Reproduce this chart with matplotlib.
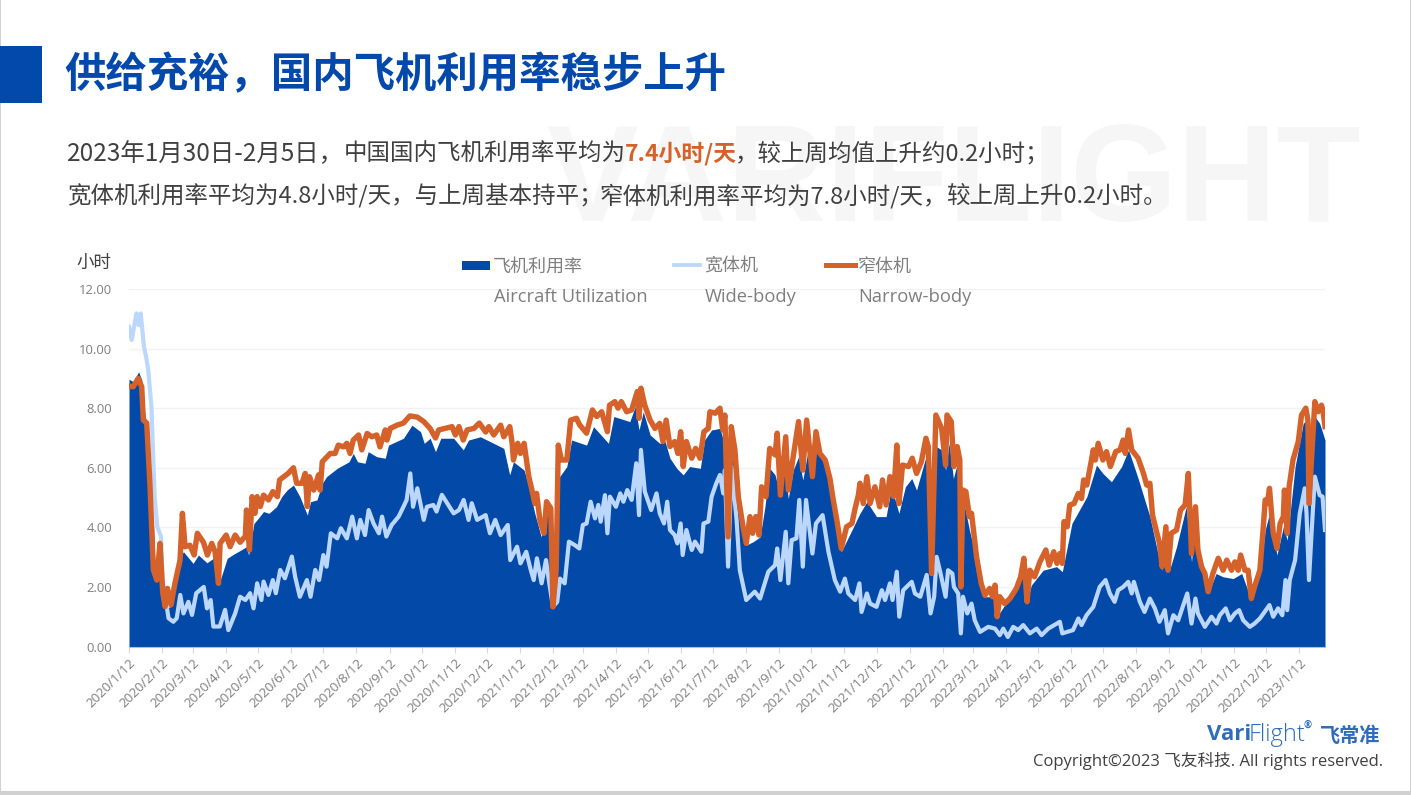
import numpy as np
import matplotlib
matplotlib.use("Agg")
import matplotlib.pyplot as plt
from matplotlib.patches import Rectangle
from matplotlib.lines import Line2D

W, H = 1411, 795
CJK = ['Noto Sans CJK SC', 'DejaVu Sans']
LAT = ['Open Sans', 'Noto Sans CJK SC', 'DejaVu Sans']
plt.rcParams['font.family'] = CJK

title = "供给充裕，国内飞机利用率稳步上升"
line1_a = "2023年1月30日-2月5日，"
line1_b = "中国国内飞机利用率平均为"
line1_c = "7.4小时/天"
line1_d = "，较上周均值上升约0.2小时；"
line2_a = "宽体机利用率平均为4.8小时/天，与上周基本持平；"
line2_b = "窄体机利用率平均为7.8小时/天，"
line2_c = "较上周上升0.2小时。"
y_ticks = [0, 2, 4, 6, 8, 10, 12]
start_date = np.datetime64('2020-01-12')
end_date = np.datetime64('2023-02-05')

util_days = [0,4,9,12,14,17,20,23,24.5,26.5,29,32,34,39,48,51,60,65,73,80.6,84,92,98,104,110,112,117,121,126,131,138,143,148,154,160,167,170,176,181,185,195,206,210,214,221,224,232,240,243,257,265,273,276.5,282,287,292,304,313,318,329,341.5,351,356.5,360,370,374,
380,386,391,394,397,402,410,414.5,428.5,435,449,454,469,474,477.6,481.6,488,497,502,506.6,513,519,525,535,539,545.6,553.4,556.5,560,564,567.4,570.6,578,584.6,591,595.5,600,605,610,614,617.4,622,627,631,636,640,644,652,656.4,662.6,667,677,684.5,691,700,709,714,721,727,733,737.5,746.3,751.6,
756,761,764.7,768,772,776.5,779,782,787,793.7,800,806,811,813,820,831,838,841,845,856,868.6,874,883,897,906,912,920,929.5,936,945,956,967,971.6,974,981,990,995,999,1004.4,1010.6,1018,1024.6,1034,1042,1051,1059,1064,1068,1075,1081,1084.6,1092,1099.6,1103,1105,1110.5,1115,1120]
util_vals = [8.97,8.89,9.22,8.94,8.0,7.38,5.36,4.02,2.57,2.29,3.46,1.67,1.28,1.34,3.02,3.18,2.79,3.07,2.81,3.0,2.07,2.96,3.1,3.22,3.35,3.07,4.13,4.3,4.53,4.47,4.69,5.03,5.25,5.42,5.03,4.41,4.86,4.92,5.48,5.7,5.98,6.2,6.48,6.2,6.15,6.54,6.37,6.32,6.76,6.99,7.43,7.21,6.82,6.99,6.54,6.99,6.99,6.6,6.93,7.04,6.82,6.65,5.76,6.2,5.92,5.42,
4.47,3.68,4.47,4.36,1.33,5.64,6.04,6.93,6.76,7.38,6.82,7.72,7.55,8.05,7.27,7.88,7.1,6.82,6.88,6.32,5.98,5.76,6.04,5.98,6.93,7.27,7.32,6.93,3.68,7.04,6.48,5.03,3.4,3.52,3.68,4.69,5.98,5.76,5.03,5.92,4.97,5.92,6.37,5.59,6.6,5.64,6.65,6.04,5.48,4.13,3.18,3.91,4.47,4.86,4.36,4.36,5.36,4.47,5.36,5.64,5.25,6.37,2.45,
6.71,6.6,5.92,6.82,5.64,6.26,2.0,4.8,3.91,2.9,1.67,1.67,1.89,1.0,1.39,1.89,2.68,1.5,2.06,2.56,2.68,2.51,4.13,5.03,6.09,5.81,5.53,6.04,6.6,5.64,4.36,2.56,3.68,2.51,3.35,4.69,2.84,4.47,2.62,1.78,2.45,2.34,2.28,2.45,1.56,2.45,3.91,4.47,3.07,4.02,3.57,6.04,7.49,7.6,4.8,7.72,7.49,6.93]

wide_days = [0,2.5,7,9,11,14,16,18,21,24,26.5,30,31.5,34,37,41.5,44.7,48,51,55.6,59,63,70,73,76.5,79,85,90,93,99.4,104,109,113.4,116.6,120,124,126,130.6,134.7,137.5,141.6,146,152.5,155.6,160,166.6,170,174.4,178,182,185,189,195,198.4,204,209,213.4,216.6,221,224.4,229,234,237,241,246,252.5,257,260,263.4,266,270,276,279,285,288,293,298,304,309,313.4,318,321,326,334,338,343,348,354.7,357,363.4,366.6,372,376,379,382,386.4,390.5,393.6,397,401,403.6,408,412,417.6,421.7,425,428.5,432.3,436.4,439.5,441.7,445.7,448,450.4,456,460,463,466.6,470.7,475,477.6,479.4,483,489,494,497,501,504,506.6,511,513.5,516.6,518.5,522,527,530,536,538,542.5,545.6,550,553.4,556.5,558,561,564.3,569,572,578,586,591,598.7,605,607,610,615,617.4,620.5,625,627.7,631,634,640,643.3,649.5,655,661,666,670.4,673.6,680,684,686,691,694,700,705,708,712.6,715,719,721.3,725,733,736,741,747,750.6,754,756.3,760,764.7,767,771,772.5,776.5,779,781,785,789,792,797,804.6,811,815.5,818.7,823,828,832.7,837.4,843.6,850,854.6,860.8,871.7,874,884,889,892,896.7,903,909,914.5,918.5,923,926.3,931,935.7,939,941,946.6,951,956,960.7,965,970,973,978,982.5,991,995,998.7,1001,1007.5,1013.7,1018.4,1021.5,1027,1031,1035.6,1039.6,1043.4,1049.6,1054,1059,1068,1071.5,1076,1080,1083,1084.6,1087,1092,1096.4,1101,1102.7,1105,1107.4,1110.5,1115,1117.7,1120]
wide_vals = [10.73,10.29,11.18,10.79,11.18,10.06,9.73,9.28,8.05,5.03,4.02,3.69,2.23,1.67,0.95,0.83,0.95,1.73,1.11,1.5,1.06,1.79,2.0,1.28,1.56,0.67,0.67,1.23,0.55,1.11,1.67,1.56,1.79,1.28,2.12,1.56,2.18,1.73,2.23,1.79,2.57,2.29,3.02,2.34,1.67,2.23,1.67,2.57,2.23,3.07,2.68,3.8,3.63,3.97,3.63,4.36,3.63,4.25,3.74,4.58,4.13,3.8,4.36,3.69,4.08,4.36,4.69,4.92,5.81,4.69,5.31,4.25,4.69,4.75,4.53,5.09,4.81,4.47,4.58,4.92,4.25,4.81,4.25,4.41,3.8,4.25,3.74,4.08,2.9,3.35,2.79,3.18,2.6,2.23,2.96,2.12,2.9,2.12,1.33,1.5,2.28,2.12,3.52,3.4,3.29,4.08,4.13,4.86,4.3,4.75,4.19,5.08,3.8,5.03,4.69,5.14,4.86,5.25,4.92,6.15,4.41,6.6,5.2,4.58,5.14,4.47,4.13,4.86,3.91,3.74,3.46,4.13,3.07,3.91,3.24,3.52,3.18,4.13,4.19,5.03,5.48,5.76,5.14,5.92,2.68,6.04,4.24,2.56,1.56,1.84,1.61,2.51,2.73,3.29,2.23,3.85,2.12,3.57,3.63,4.92,2.68,4.92,3.12,4.13,4.41,3.18,2.23,1.84,2.28,1.78,1.56,2.12,1.16,1.78,1.44,1.33,1.89,1.56,2.12,1.56,2.51,1.0,1.89,2.17,1.78,1.67,2.4,1.11,1.67,3.01,2.45,1.67,2.56,2.45,2.0,1.78,0.44,1.67,1.11,1.44,0.88,0.49,0.66,0.6,0.38,0.6,0.32,0.66,0.55,0.72,0.44,0.6,0.38,0.6,0.83,0.44,0.55,0.94,0.72,1.05,1.33,2.0,2.23,1.78,1.5,1.89,2.0,2.17,1.78,2.17,1.5,1.16,1.61,1.28,0.83,1.22,0.44,1.05,0.88,1.78,0.77,1.61,1.11,0.66,1.0,0.77,1.05,1.28,0.88,1.11,1.22,0.88,0.66,0.77,0.94,1.39,1.0,1.28,1.05,2.23,1.22,2.23,2.9,4.47,5.31,4.47,2.23,3.8,5.7,5.08,5.03,3.91]

narrow_days = [0,4,8.6,11.9,13.4,16.6,19.7,22.8,26,29,31.6,33.8,36,39.4,43,47.8,50,52.5,57,61,64,69.7,73.4,77.5,80.6,83.8,85.3,91,94.7,99.4,104,109,110,112.8,115.3,118,120,123,126,130.6,134.7,139,141,145,149,154,157,162,165,167,169,173,177.5,179,181,188.4,193,196,201,204,207,210,215,218,223,227.5,232,235,240,241.6,244.7,251,257,263,270,276,282,287,290,296,302.5,305.6,309,313,316.6,323,328,334,337,341.6,348,351,356.6,358.8,360,364,366.6,370,374.4,377,380,381.7,385,388.6,391,395,397,400,402,405,410,413.6,419,422,428.5,434,438,442.6,448,450,455,458,461,466,470.7,476,477.6,479.4,483,488,492.5,497,500,503,506.6,511,514,516.6,519,522,527,530.6,534.7,538.4,542.5,544,549,553.4,556,558,561,564,567.4,570.6,575,578,581.5,584,587,590,592.4,596.5,600,605,607,610,615,617.4,622,627,631,634.6,640,643.3,647,652,656.4,659.5,662.6,667,672,677,680,683,684.5,687.6,691,694,698.5,703,705.6,709,712.6,716,719,721,724.4,730,733.5,737.5,742,746.3,748.5,751.6,755.6,761,764.7,766,770,772.5,775.6,778,779,781,783.7,787,789,793.7,798,801.5,806,808.7,811,813,815.5,820,825,831,835,838,841,843.6,848,853,858.6,861.7,866,869,871.7,874,875.5,878.6,881,885,889,892,894,897,903,905,907.6,912,915.4,919,924,928,931,933,936,939,945,950,953,956,958.5,960.7,965,967.5,971,973,976,981,984.7,989,992,995,998.7,1001,1004.4,1007.5,1010.6,1015,1020,1024.6,1028,1032.5,1035.6,1038.7,1041,1045,1048,1051,1054,1059,1062,1064,1066,1068,1071.5,1075,1078,1081,1082,1084.6,1086.4,1090,1095,1098,1102,1104,1105,1110.5,1113.6,1116.7,1118,1120]
narrow_vals = [8.74,8.72,9.0,8.72,7.6,7.5,5.37,2.57,2.23,3.46,1.8,1.34,1.95,1.4,2.12,2.9,4.47,3.35,3.4,3.07,3.8,3.5,3.07,3.46,3.18,2.12,3.46,3.74,3.35,3.74,3.5,3.7,4.58,3.24,5.03,4.47,5.03,4.7,5.08,4.92,5.2,5.03,5.59,5.7,5.81,6.0,5.48,5.48,5.81,4.7,5.7,5.25,5.76,5.25,6.2,6.48,6.48,6.76,6.7,6.82,6.48,6.93,7.1,6.6,7.15,7.04,7.1,6.7,7.27,6.93,7.32,7.43,7.5,7.74,7.7,7.55,7.32,7.0,7.27,7.32,7.38,7.1,7.38,6.93,7.27,7.32,7.5,7.2,7.38,7.1,7.43,7.04,7.38,6.82,6.26,6.82,6.48,6.82,5.7,5.3,4.8,5.14,4.19,3.8,4.86,4.64,1.33,2.56,6.76,6.26,6.26,7.6,7.66,7.44,7.16,7.94,7.72,7.88,7.21,8.1,8.22,8.0,8.22,7.88,7.94,8.56,7.66,8.67,8.1,7.6,7.32,7.49,6.88,7.6,6.71,6.88,6.48,7.21,6.04,6.88,6.32,6.65,6.32,7.21,7.32,7.88,7.83,8.0,7.27,7.77,3.68,7.38,6.6,5.03,4.02,3.46,4.36,3.8,4.36,3.74,5.36,5.03,6.65,6.43,7.16,5.08,7.04,5.25,6.37,7.55,5.92,7.6,5.7,7.21,6.48,6.26,5.64,4.92,4.3,3.29,4.02,4.13,4.64,5.08,5.48,4.8,5.7,4.8,5.36,4.69,5.59,4.75,5.7,5.03,6.76,4.8,6.09,6.04,6.32,5.81,6.2,6.99,6.71,2.45,7.77,7.32,6.09,7.77,7.55,6.04,6.71,6.26,2.0,5.25,5.2,4.36,4.47,3.01,2.12,1.72,1.95,1.67,2.06,1.0,1.67,1.44,1.61,1.95,2.34,2.96,1.5,2.56,2.34,2.84,3.24,2.73,3.18,2.79,3.12,2.79,4.19,4.02,4.75,4.8,5.14,4.97,5.59,5.42,6.6,6.26,6.82,6.26,6.54,6.04,6.54,6.6,6.93,6.48,7.27,6.6,6.32,5.81,5.42,5.48,4.41,4.08,3.46,2.68,4.02,2.56,3.8,3.91,4.58,4.75,5.81,3.12,4.69,3.24,2.68,2.45,1.84,2.45,2.96,2.56,2.9,2.56,2.84,2.56,3.07,2.56,2.56,1.61,2.0,2.56,3.91,4.92,4.8,5.31,3.8,3.29,4.13,4.36,5.25,3.8,5.36,6.26,6.88,7.77,8.0,7.6,4.8,8.22,7.88,8.1,7.94,7.38]

BLUE = '#0349A8'
LIGHT = '#BBD7FB'
ORANGE = '#D4622A'
GRAY = '#7F7F7F'
DARK = '#404040'

def fx(x): return x / W
def fy(y): return 1 - y / H

fig = plt.figure(figsize=(W / 100, H / 100), dpi=100, facecolor='white')

# slide frame
for (x0, y0, w, h) in [(0, 791, W, 4), (1410, 0, 1, 795), (0, 0, 1, 795)]:
    fig.patches.append(Rectangle((fx(x0), fy(y0 + h)), w / W, h / H, transform=fig.transFigure,
                                 fc='#D0D0D0', ec='none'))
fig.patches.append(Rectangle((fx(0), fy(103)), 42 / W, 57 / H, transform=fig.transFigure,
                             fc='#0349AC', ec='none'))

fig.text(fx(546), fy(185), "VARIFLIGHT", family='Liberation Sans', fontweight='bold', fontsize=99,
         color='#F6F6F6', va='center', ha='left', zorder=0)
fig.text(fx(64), fy(75), title, fontsize=29.8, fontweight='bold', color='#0349AC', va='center', ha='left')

for xx, seg, col, wt, fs in [(67, line1_a, DARK, 'normal', 17.6), (344, line1_b, DARK, 'normal', 16.9),
                             (625, line1_c, ORANGE, 'bold', 16.5), (735, line1_d, DARK, 'normal', 16.9)]:
    fig.text(fx(xx), fy(154), seg, fontsize=fs, color=col, fontweight=wt, va='center', ha='left')
for xx, seg in [(67, line2_a), (600, line2_b), (946, line2_c)]:
    fig.text(fx(xx), fy(196), seg, fontsize=16.9, color=DARK, va='center', ha='left')

# chart
ax = fig.add_axes([fx(129), fy(646.5), (1325 - 129) / W, (646.5 - 289) / H])
ax.set_facecolor('none')
ax.fill_between(util_days, util_vals, 0, color=BLUE, lw=0, zorder=2)
ax.plot(wide_days, wide_vals, color=LIGHT, lw=3.0, zorder=3, solid_joinstyle='round')
ax.plot(narrow_days, narrow_vals, color=ORANGE, lw=3.9, zorder=4, solid_joinstyle='round')

ax.set_xlim(0, (end_date - start_date).astype(int))
ax.set_ylim(0, 12)
ax.set_yticks(y_ticks)
ax.set_yticklabels([f"{v:.2f}" for v in y_ticks], family=LAT)
ax.grid(axis='y', color='#F2F2F2', lw=1, zorder=0)
ax.set_axisbelow(True)

months = np.arange(np.datetime64('2020-01'), np.datetime64('2023-02'))
tick_dates = months.astype('datetime64[D]') + np.timedelta64(11, 'D')
ax.set_xticks((tick_dates - start_date).astype(int))
ax.set_xticklabels([f"{str(d)[:4]}/{int(str(d)[5:7])}/12" for d in tick_dates],
                   rotation=45, ha='right', rotation_mode='anchor', family=LAT)
ax.tick_params(axis='x', length=4, color='#D9D9D9', labelsize=9.6, labelcolor=GRAY, pad=3)
ax.tick_params(axis='y', length=0, labelsize=9.4, labelcolor=GRAY, pad=12)
for s in ['top', 'right', 'left']:
    ax.spines[s].set_visible(False)
ax.spines['bottom'].set_color('#A9BEE3')

fig.text(fx(76), fy(263), "小时", fontsize=12.6, color=DARK, va='center', ha='left')

# legend
fig.patches.append(Rectangle((fx(462), fy(270)), 28 / W, 9 / H, transform=fig.transFigure, fc=BLUE, ec='none'))
fig.lines.append(Line2D([fx(674), fx(700)], [fy(265)] * 2, transform=fig.transFigure, color=LIGHT, lw=2.7))
fig.lines.append(Line2D([fx(826), fx(855)], [fy(265)] * 2, transform=fig.transFigure, color=ORANGE, lw=3.6))
for xx, xe, zh, en in [(493, 494, "飞机利用率", "Aircraft Utilization"), (704, 705, "宽体机", "Wide-body"),
                       (858, 858, "窄体机", "Narrow-body")]:
    fig.text(fx(xx), fy(267), zh, fontsize=13, color=GRAY, va='center', ha='left')
    fig.text(fx(xe), fy(297), en, family=LAT, fontsize=13.2, color=GRAY, va='center', ha='left')

# footer
LOGO = '#2F6DBB'
fig.text(fx(1207), fy(735), "Vari", family='Open Sans', fontweight='bold', fontsize=16, color=LOGO, va='center', ha='left')
fig.text(fx(1249), fy(735), "Flight", family='Open Sans', fontweight='light', fontsize=17, color=LOGO, va='center', ha='left')
fig.text(fx(1304), fy(725), "®", family='Open Sans', fontweight='bold', fontsize=7, color=LOGO, va='center', ha='left')
fig.text(fx(1320), fy(735), "飞常准", fontsize=14.5, fontweight='bold', color=LOGO, va='center', ha='left')
fig.text(fx(1383), fy(761), "Copyright©2023 飞友科技. All rights reserved.", family=LAT, fontsize=12, color=DARK, va='center', ha='right')

fig.savefig('out.png', dpi=100)
